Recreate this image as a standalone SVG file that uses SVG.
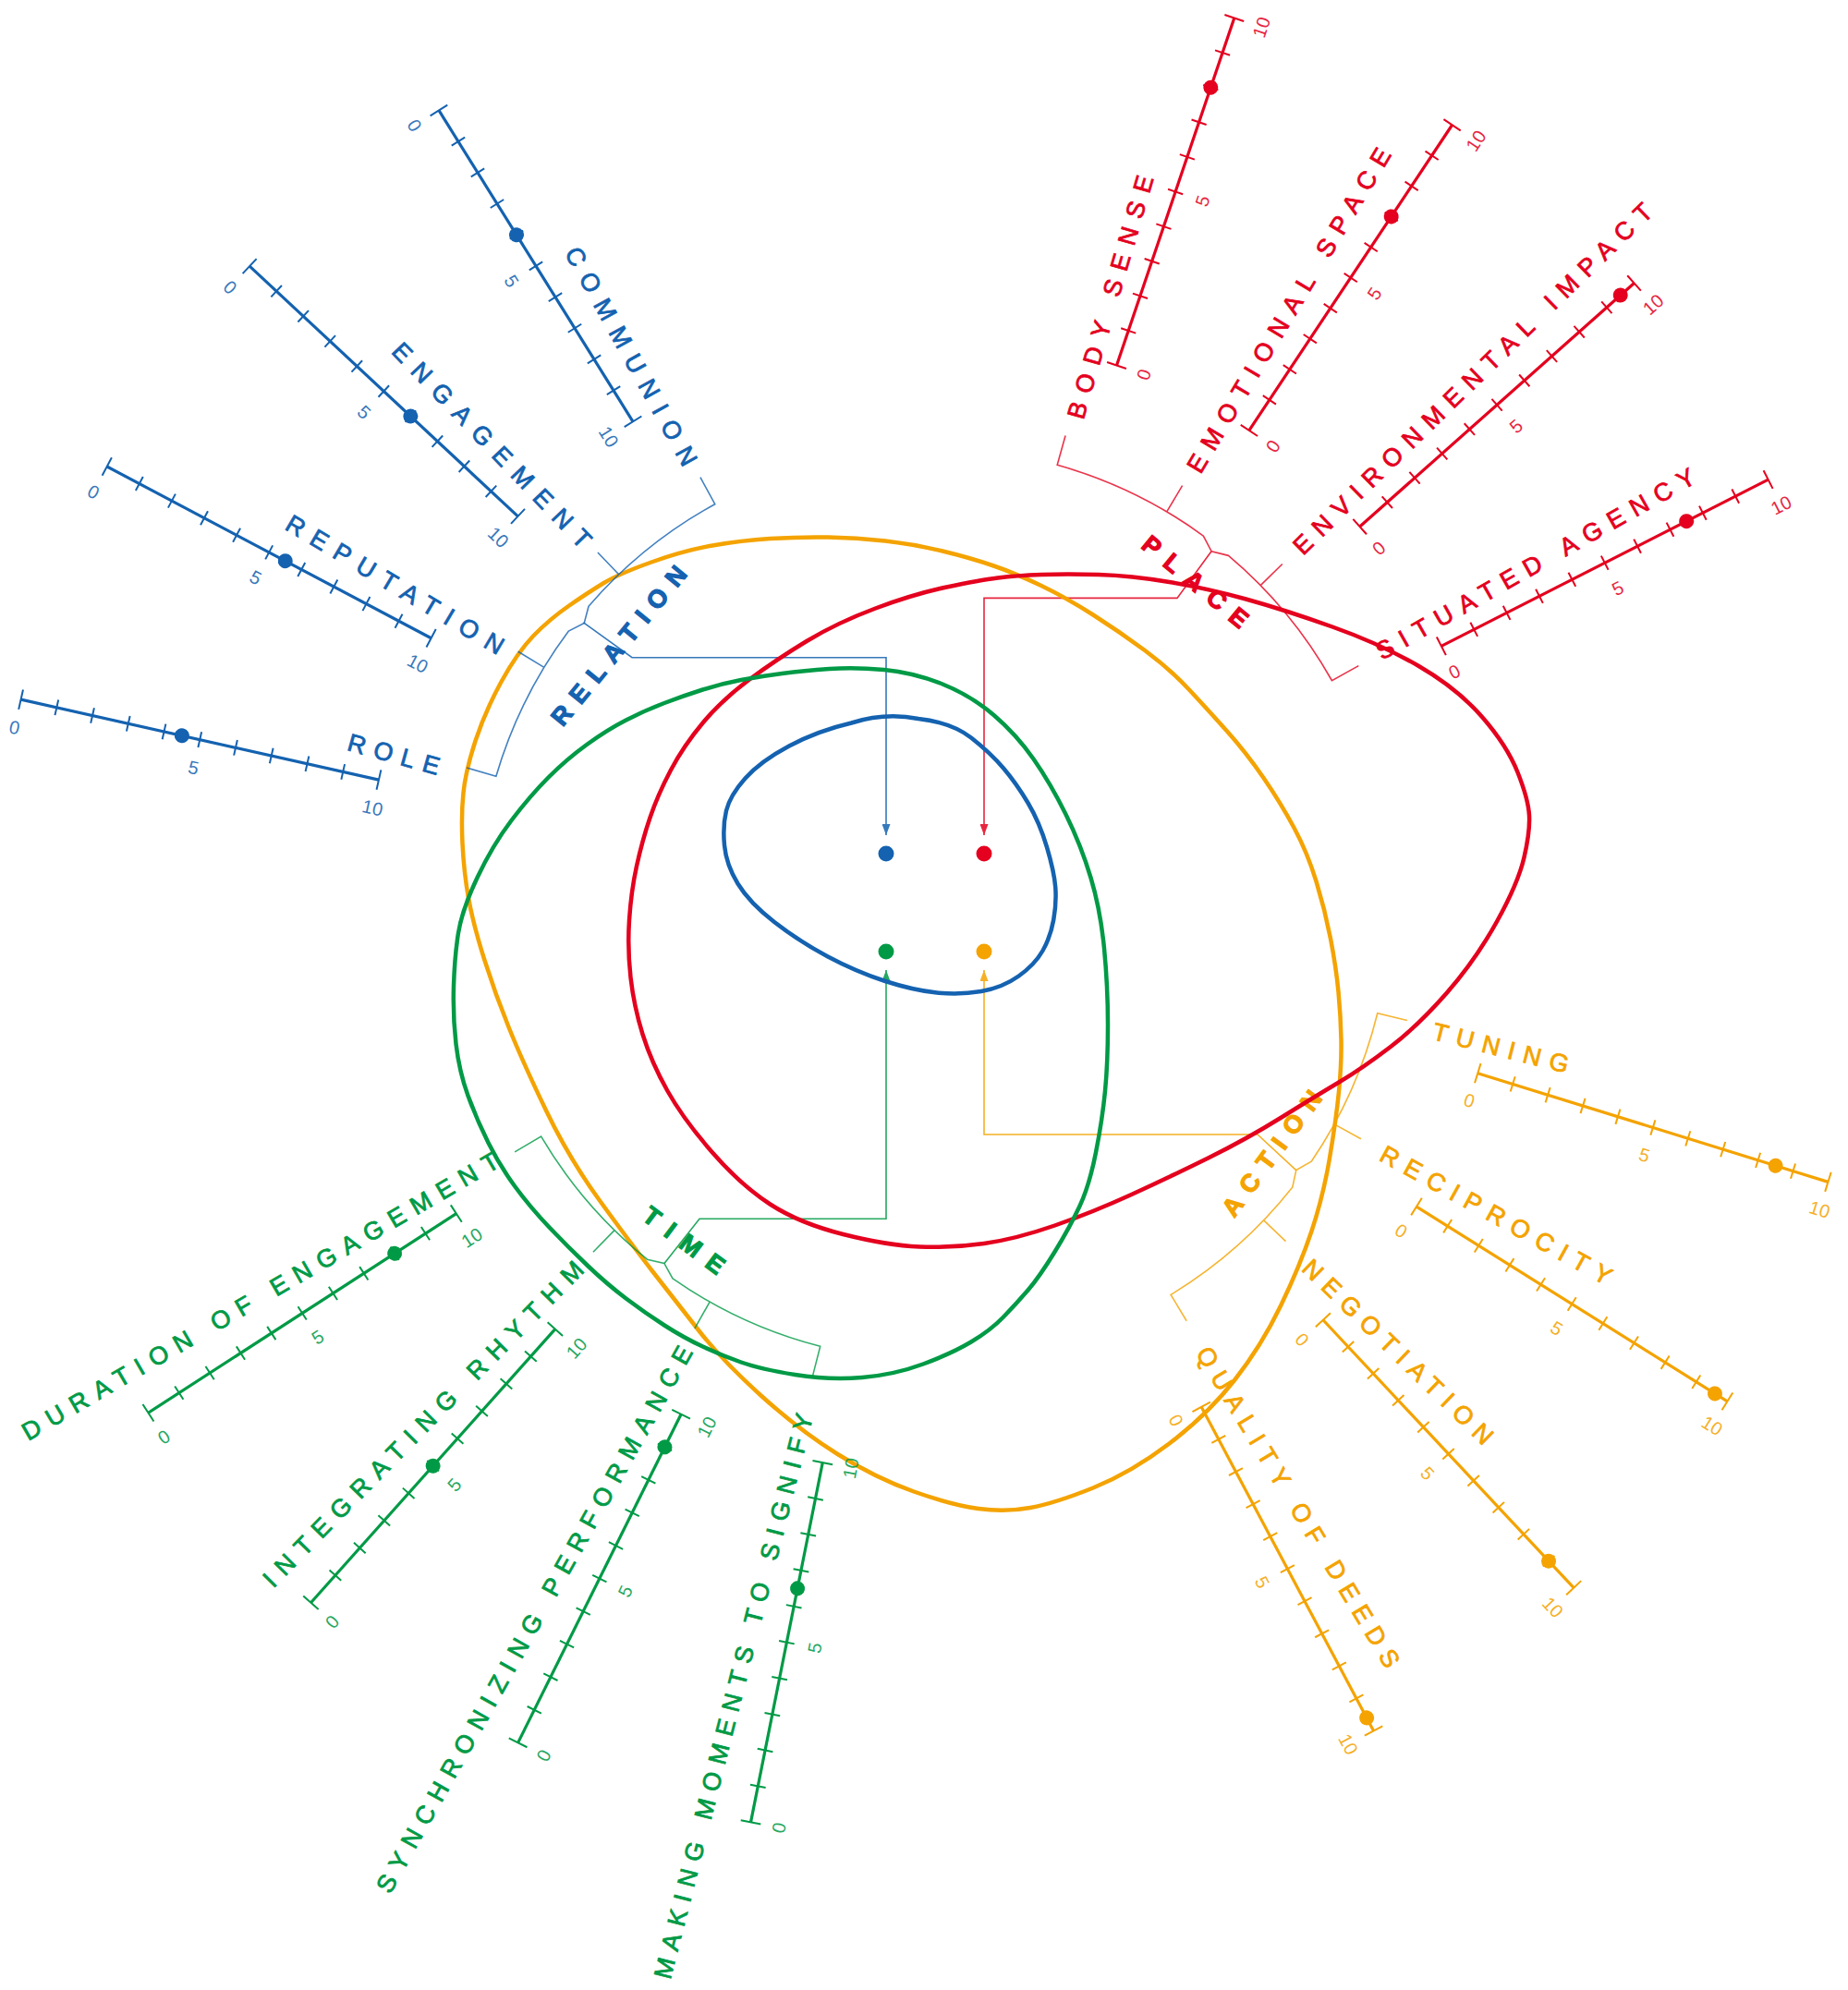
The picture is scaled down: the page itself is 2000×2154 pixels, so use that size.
<svg xmlns="http://www.w3.org/2000/svg" width="2000" height="2154" viewBox="0 0 2000 2154">
<defs>
<style>
.ln{fill:none;stroke:currentColor;stroke-width:3.2}
.tk{fill:none;stroke:currentColor;stroke-width:2}
.dot{fill:currentColor}
.lab{font-family:"Liberation Sans",Arial,Helvetica,sans-serif;font-size:27px;fill:currentColor;stroke:currentColor;stroke-width:0.8;dominant-baseline:central}
.num{font-family:"Liberation Sans",Arial,Helvetica,sans-serif;font-size:20px;fill:currentColor;text-anchor:middle;dominant-baseline:central;opacity:.85}
.cat{font-family:"Liberation Sans",Arial,Helvetica,sans-serif;font-size:27px;font-weight:bold;fill:currentColor;stroke:currentColor;stroke-width:1.2;text-anchor:middle;dominant-baseline:central}
.loop{fill:none;stroke:currentColor;stroke-width:4.5}
.brk{fill:none;stroke:currentColor;stroke-width:1.6;opacity:.8}
.conn path{fill:none;stroke-width:1.6;opacity:.85}
.blue{color:#1462b0}.red{color:#e4001e}.green{color:#009a46}.orange{color:#f4a300}
</style>
<path id="tk" d="M0,-11V11M39.7,-8.5V8.5M79.4,-8.5V8.5M119.1,-8.5V8.5M158.8,-8.5V8.5M198.5,-8.5V8.5M238.2,-8.5V8.5M277.9,-8.5V8.5M317.6,-8.5V8.5M357.3,-8.5V8.5M397,-11V11"/>
<path id="brace" d="M486.9,-201.7L456.4,-189A494,494 0 0 1 493.7,-17.24L486,0L493.7,17.24A494,494 0 0 1 456.4,189L486.9,201.7M489.8,-64.5L522.5,-68.8M489.8,64.5L522.5,68.8"/>
<marker id="ab" markerUnits="userSpaceOnUse" markerWidth="12" markerHeight="9" refX="12" refY="4.5" orient="auto" viewBox="0 0 12 9"><path d="M0,0L12,4.5L0,9z" fill="#1462b0"/></marker>
<marker id="ar" markerUnits="userSpaceOnUse" markerWidth="12" markerHeight="9" refX="12" refY="4.5" orient="auto" viewBox="0 0 12 9"><path d="M0,0L12,4.5L0,9z" fill="#e4001e"/></marker>
<marker id="ag" markerUnits="userSpaceOnUse" markerWidth="12" markerHeight="9" refX="12" refY="4.5" orient="auto" viewBox="0 0 12 9"><path d="M0,0L12,4.5L0,9z" fill="#009a46"/></marker>
<marker id="ao" markerUnits="userSpaceOnUse" markerWidth="12" markerHeight="9" refX="12" refY="4.5" orient="auto" viewBox="0 0 12 9"><path d="M0,0L12,4.5L0,9z" fill="#f4a300"/></marker>
</defs>
<rect width="2000" height="2154" fill="#fff"/>

<g id="connectors" class="conn">
<path d="M631.5,673.8L684,711.7H959V904" stroke="#1462b0" marker-end="url(#ab)"/>
<path d="M1311,596.7L1274,647.4H1065V904" stroke="#e4001e" marker-end="url(#ar)"/>
<path d="M719,1367.4L757,1319.2H959V1050" stroke="#009a46" marker-end="url(#ag)"/>
<path d="M1402.7,1266.6L1361,1228H1065V1050" stroke="#f4a300" marker-end="url(#ao)"/>
</g>

<g id="action" class="orange">
<path class="loop" d="M896,581.5 Q927,582 958,585.5 Q989,589 1020,596.5 Q1051,604 1075.5,612.5 Q1100,621 1127,634 Q1154,647 1183,665.5 Q1212,684 1239,704 Q1266,724 1286.5,746 Q1307,768 1328,791.5 Q1349,815 1367.5,842 Q1386,869 1400.5,896 Q1415,923 1424.5,954 Q1434,985 1440,1016 Q1446,1047 1448.5,1073.5 Q1451,1100 1451.5,1125.5 Q1452,1151 1449,1181.5 Q1446,1212 1439,1253.5 Q1432,1295 1419.5,1332.5 Q1407,1370 1386,1413.5 Q1365,1457 1336,1494 Q1307,1531 1265.5,1562.5 Q1224,1594 1183,1610.5 Q1142,1627 1115,1632 Q1088,1637 1059,1633 Q1030,1629 989,1614.5 Q948,1600 906.5,1574 Q865,1548 823.5,1510.5 Q782,1473 756.5,1440.5 Q731,1408 706.5,1376.5 Q682,1345 649,1299.5 Q616,1254 591,1202 Q566,1150 551,1113 Q536,1076 524,1038 Q512,1000 507,972 Q502,944 500.5,913 Q499,882 501.5,858 Q504,834 514.5,802 Q525,770 542.5,738 Q560,706 577.5,688 Q595,670 616,655.5 Q637,641 653.5,631 Q670,621 705,608.5 Q740,596 771,590.5 Q802,585 833.5,583 Q865,581 896,581.5 Z"/>
<use href="#brace" class="brk" transform="translate(1011 979) rotate(36.28)"/>
<circle class="dot" cx="1065" cy="1030" r="8.5"/>
<text class="cat" x="1376.7" y="1248.5" transform="rotate(-53.5 1376.7 1248.5)" textLength="162">ACTION</text>
</g>

<g id="place" class="red">
<path class="loop" d="M1189,622 Q1224,623 1265.5,630 Q1307,637 1348.5,648.5 Q1390,660 1442,678.5 Q1494,697 1535.5,721 Q1577,745 1604,776 Q1631,807 1642.5,836 Q1654,865 1655,882.5 Q1656,900 1649.5,928 Q1643,956 1620,997.5 Q1597,1039 1566,1074.5 Q1535,1110 1505,1133 Q1475,1156 1449,1171.5 Q1423,1187 1386,1210 Q1349,1233 1307.5,1253.5 Q1266,1274 1224.5,1293 Q1183,1312 1141.5,1326.5 Q1100,1341 1065,1346 Q1030,1351 995,1349.5 Q960,1348 912.5,1336 Q865,1324 833.5,1303.5 Q802,1283 771,1247.5 Q740,1212 722.5,1181 Q705,1150 695.5,1119.5 Q686,1089 682.5,1058 Q679,1027 681,996 Q683,965 689,937.5 Q695,910 703.5,885 Q712,860 726,833.5 Q740,807 761,782 Q782,757 811,735.5 Q840,714 873,694 Q906,674 947.5,658.5 Q989,643 1024.5,635.5 Q1060,628 1080,625.5 Q1100,623 1127,622 Q1154,621 1189,622 Z"/>
<use href="#brace" class="brk" transform="translate(1011 979) rotate(-51.86)"/>
<circle class="dot" cx="1065" cy="924" r="8.5"/>
<text class="cat" x="1293.4" y="629.9" transform="rotate(39.5 1293.4 629.9)" textLength="140">PLACE</text>
</g>

<g id="time" class="green">
<path class="loop" d="M957,725 Q989,728 1020,740.5 Q1051,753 1075.5,774 Q1100,795 1118.5,821.5 Q1137,848 1153.5,881.5 Q1170,915 1180.5,950 Q1191,985 1195,1026.5 Q1199,1068 1199,1109 Q1199,1150 1196,1181 Q1193,1212 1186,1247.5 Q1179,1283 1168.5,1305.5 Q1158,1328 1141.5,1355 Q1125,1382 1112.5,1396.5 Q1100,1411 1086,1425.5 Q1072,1440 1051,1452.5 Q1030,1465 999,1476.5 Q968,1488 933,1491 Q898,1494 860.5,1488 Q823,1482 802,1474.5 Q781,1467 760.5,1457.5 Q740,1448 719,1434.5 Q698,1421 677.5,1405.5 Q657,1390 636,1370 Q615,1350 594.5,1328.5 Q574,1307 557.5,1284.5 Q541,1262 528.5,1237 Q516,1212 506.5,1186 Q497,1160 493.5,1130 Q490,1100 491,1067.5 Q492,1035 496,1010 Q500,985 516.5,950 Q533,915 553.5,888 Q574,861 593.5,841.5 Q613,822 635,806 Q657,790 677.5,779.5 Q698,769 719,761 Q740,753 760.5,746.5 Q781,740 802,736 Q823,732 846.5,729 Q870,726 897.5,724 Q925,722 957,725 Z"/>
<use href="#brace" class="brk" transform="translate(1011 979) rotate(126.95)"/>
<circle class="dot" cx="959" cy="1030" r="8.5"/>
<text class="cat" x="740.2" y="1342.8" transform="rotate(36.8 740.2 1342.8)" textLength="103">TIME</text>
</g>

<g id="relation" class="blue">
<path class="loop" d="M994,778 Q1030,782 1051,798.5 Q1072,815 1086,831.5 Q1100,848 1112.5,869 Q1125,890 1133,917 Q1141,944 1142.25,960.5 Q1143.5,977 1140.25,995.5 Q1137,1014 1128.5,1029 Q1120,1044 1102.5,1056.5 Q1085,1069 1062,1073 Q1039,1077 1014,1074.5 Q989,1072 958,1062 Q927,1052 896,1035.5 Q865,1019 838,998 Q811,977 798.5,956.5 Q786,936 784,915 Q782,894 786,877.5 Q790,861 806.5,842.5 Q823,824 854,807.5 Q885,791 921.5,782.5 Q958,771 994,778 Z"/>
<use href="#brace" class="brk" transform="translate(1011 979) rotate(-141.2)"/>
<circle class="dot" cx="959" cy="924" r="8.5"/>
<text class="cat" x="670" y="699" transform="rotate(-50.6 670 699)" textLength="214">RELATION</text>
</g>

<g id="communion" class="blue">
<g transform="translate(1011 979) rotate(58.05)"><line class="ln" x1="-1013" x2="-616"/><use href="#tk" x="-1013" class="tk"/><circle class="dot" cx="-854.2" r="8"/><text class="num" x="-1013" y="31">0</text><text class="num" x="-814.5" y="31">5</text><text class="num" x="-616" y="31">10</text></g>
<text class="lab" transform="translate(1011 979) rotate(61.05)" x="-811" textLength="266">COMMUNION</text>
</g>
<g id="engagement" class="blue">
<g transform="translate(1011 979) rotate(43)"><line class="ln" x1="-1013" x2="-616"/><use href="#tk" x="-1013" class="tk"/><circle class="dot" cx="-774.8" r="8"/><text class="num" x="-1013" y="31">0</text><text class="num" x="-814.5" y="31">5</text><text class="num" x="-616" y="31">10</text></g>
<text class="lab" transform="translate(1011 979) rotate(46.05)" x="-838.6" textLength="297">ENGAGEMENT</text>
</g>
<g id="reputation" class="blue">
<g transform="translate(1011 979) rotate(27.9)"><line class="ln" x1="-1013" x2="-616"/><use href="#tk" x="-1013" class="tk"/><circle class="dot" cx="-794.65" r="8"/><text class="num" x="-1013" y="31">0</text><text class="num" x="-814.5" y="31">5</text><text class="num" x="-616" y="31">10</text></g>
<text class="lab" transform="translate(1011 979) rotate(30.65)" x="-813" textLength="269">REPUTATION</text>
</g>
<g id="role" class="blue">
<g transform="translate(1011 979) rotate(12.65)"><line class="ln" x1="-1013" x2="-616"/><use href="#tk" x="-1013" class="tk"/><circle class="dot" cx="-834.35" r="8"/><text class="num" x="-1013" y="31">0</text><text class="num" x="-814.5" y="31">5</text><text class="num" x="-616" y="31">10</text></g>
<text class="lab" transform="translate(1011 979) rotate(15.5)" x="-658" textLength="102">ROLE</text>
</g>

<g id="body-sense" class="red">
<g transform="translate(1011 979) rotate(-71.3)"><line class="ln" x1="616" x2="1013"/><use href="#tk" x="616" class="tk"/><circle class="dot" cx="933.6" r="8"/><text class="num" x="616" y="31">0</text><text class="num" x="814.5" y="31">5</text><text class="num" x="1013" y="31">10</text></g>
<text class="lab" transform="translate(1011 979) rotate(-73.8)" x="548" textLength="273">BODY SENSE</text>
</g>
<g id="emotional-space" class="red">
<g transform="translate(1011 979) rotate(-56.4)"><line class="ln" x1="616" x2="1013"/><use href="#tk" x="616" class="tk"/><circle class="dot" cx="893.9" r="8"/><text class="num" x="616" y="31">0</text><text class="num" x="814.5" y="31">5</text><text class="num" x="1013" y="31">10</text></g>
<text class="lab" transform="translate(1011 979) rotate(-59.15)" x="547" textLength="404">EMOTIONAL SPACE</text>
</g>
<g id="environmental-impact" class="red">
<g transform="translate(1011 979) rotate(-41.6)"><line class="ln" x1="616" x2="1013"/><use href="#tk" x="616" class="tk"/><circle class="dot" cx="993.2" r="8"/><text class="num" x="616" y="31">0</text><text class="num" x="814.5" y="31">5</text><text class="num" x="1013" y="31">10</text></g>
<text class="lab" transform="translate(1011 979) rotate(-44.3)" x="549" textLength="531">ENVIRONMENTAL IMPACT</text>
</g>
<g id="situated-agency" class="red">
<g transform="translate(1011 979) rotate(-27)"><line class="ln" x1="616" x2="1013"/><use href="#tk" x="616" class="tk"/><circle class="dot" cx="913.75" r="8"/><text class="num" x="616" y="31">0</text><text class="num" x="814.5" y="31">5</text><text class="num" x="1013" y="31">10</text></g>
<text class="lab" transform="translate(1011 979) rotate(-29.5)" x="552" textLength="392">SITUATED AGENCY</text>
</g>

<g id="tuning" class="orange">
<g transform="translate(1011 979) rotate(17.25)"><line class="ln" x1="616" x2="1013"/><use href="#tk" x="616" class="tk"/><circle class="dot" cx="953.45" r="8"/><text class="num" x="616" y="31">0</text><text class="num" x="814.5" y="31">5</text><text class="num" x="1013" y="31">10</text></g>
<text class="lab" transform="translate(1011 979) rotate(14.23)" x="557" textLength="151">TUNING</text>
</g>
<g id="reciprocity" class="orange">
<g transform="translate(1011 979) rotate(32.07)"><line class="ln" x1="616" x2="1013"/><use href="#tk" x="616" class="tk"/><circle class="dot" cx="997.1" r="8"/><text class="num" x="616" y="31">0</text><text class="num" x="814.5" y="31">5</text><text class="num" x="1013" y="31">10</text></g>
<text class="lab" transform="translate(1011 979) rotate(28.97)" x="554" textLength="282">RECIPROCITY</text>
</g>
<g id="negotiation" class="orange">
<g transform="translate(1011 979) rotate(46.9)"><line class="ln" x1="616" x2="1013"/><use href="#tk" x="616" class="tk"/><circle class="dot" cx="973.3" r="8"/><text class="num" x="616" y="31">0</text><text class="num" x="814.5" y="31">5</text><text class="num" x="1013" y="31">10</text></g>
<text class="lab" transform="translate(1011 979) rotate(44)" x="560" textLength="275">NEGOTIATION</text>
</g>
<g id="quality-of-deeds" class="orange">
<g transform="translate(1011 979) rotate(62)"><line class="ln" x1="616" x2="1013"/><use href="#tk" x="616" class="tk"/><circle class="dot" cx="997.1" r="8"/><text class="num" x="616" y="31">0</text><text class="num" x="814.5" y="31">5</text><text class="num" x="1013" y="31">10</text></g>
<text class="lab" transform="translate(1011 979) rotate(58.9)" x="562" textLength="400">QUALITY OF DEEDS</text>
</g>

<g id="duration-of-engagement" class="green">
<g transform="translate(1011 979) rotate(-32.9)"><line class="ln" x1="-1013" x2="-616"/><use href="#tk" x="-1013" class="tk"/><circle class="dot" cx="-695.4" r="8"/><text class="num" x="-1013" y="31">0</text><text class="num" x="-814.5" y="31">5</text><text class="num" x="-616" y="31">10</text></g>
<text class="lab" transform="translate(1011 979) rotate(-30.2)" x="-1139.6" textLength="592">DURATION OF ENGAGEMENT</text>
</g>
<g id="integrating-rhythm" class="green">
<g transform="translate(1011 979) rotate(-48.25)"><line class="ln" x1="-1013" x2="-616"/><use href="#tk" x="-1013" class="tk"/><circle class="dot" cx="-814.5" r="8"/><text class="num" x="-1013" y="31">0</text><text class="num" x="-814.5" y="31">5</text><text class="num" x="-616" y="31">10</text></g>
<text class="lab" transform="translate(1011 979) rotate(-45.5)" x="-1029.7" textLength="482">INTEGRATING RHYTHM</text>
</g>
<g id="synchronizing-performance" class="green">
<g transform="translate(1011 979) rotate(-63.6)"><line class="ln" x1="-1013" x2="-616"/><use href="#tk" x="-1013" class="tk"/><circle class="dot" cx="-655.7" r="8"/><text class="num" x="-1013" y="31">0</text><text class="num" x="-814.5" y="31">5</text><text class="num" x="-616" y="31">10</text></g>
<text class="lab" transform="translate(1011 979) rotate(-60.8)" x="-1223" textLength="673">SYNCHRONIZING PERFORMANCE</text>
</g>
<g id="making-moments-to-signify" class="green">
<g transform="translate(1011 979) rotate(-78.7)"><line class="ln" x1="-1013" x2="-616"/><use href="#tk" x="-1013" class="tk"/><circle class="dot" cx="-755" r="8"/><text class="num" x="-1013" y="31">0</text><text class="num" x="-814.5" y="31">5</text><text class="num" x="-616" y="31">10</text></g>
<text class="lab" transform="translate(1011 979) rotate(-75.8)" x="-1199" textLength="630">MAKING MOMENTS TO SIGNIFY</text>
</g>
</svg>
